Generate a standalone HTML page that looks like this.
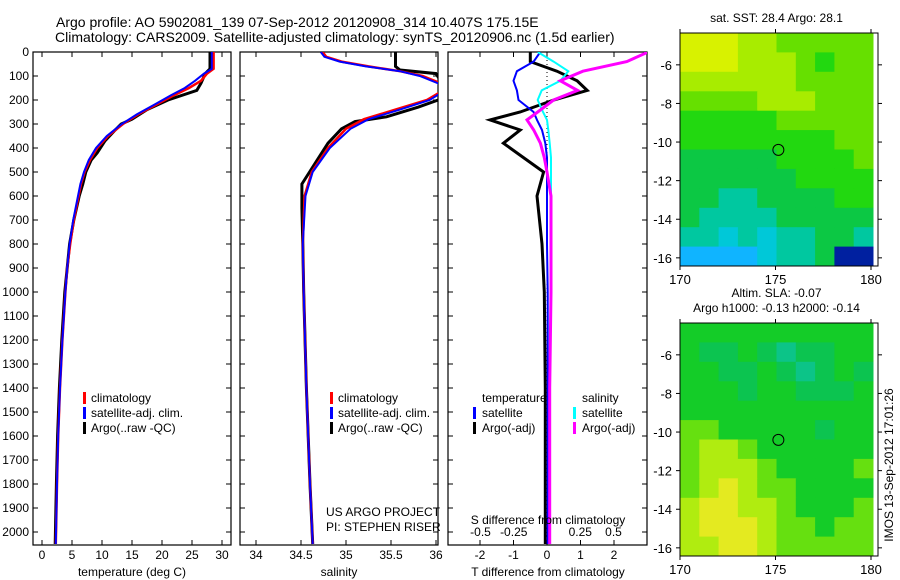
<!DOCTYPE html>
<html><head><meta charset="utf-8"><style>
body{margin:0;background:#fff;}
svg{display:block;font-family:"Liberation Sans",sans-serif;}
</style></head><body>
<svg id="c" width="900" height="580" viewBox="0 0 900 580"></svg>
<script>
// ---- data ----
const tDepth=[0,70,90,120,150,180,220,260,300,350,400,450,500,550,600,700,800,900,1000,1200,1400,1600,1800,2050];
const tClim=[28.6,28.6,27.5,26.5,24.5,22,19,16,13.5,11,9.2,8,7.1,6.5,6.1,5.3,4.7,4.2,3.9,3.4,3.0,2.7,2.5,2.3];
const tSat=[28.3,28.3,27,25.5,23.8,21.5,18.7,15.8,13.3,10.8,9.0,7.8,7.0,6.4,6.0,5.2,4.6,4.2,3.9,3.4,3.0,2.7,2.5,2.3];
const aDepth=[0,70,90,130,160,200,240,280,300,330,370,420,450,500,550,600,700,800,1000,1200,1400,1600,1800,2050];
const tArgo=[28.0,28.0,27.2,26.5,25.8,21,17.5,15,13.2,12,10.5,9.2,8.2,7.3,6.8,6.2,5.3,4.6,3.8,3.3,2.9,2.6,2.4,2.2];
const sDepth=[0,20,40,60,80,100,130,160,200,240,280,320,400,500,600,800,1000,1400,1800,2050];
const sClim=[34.74,34.78,34.95,35.25,35.6,35.85,36.05,36.08,35.9,35.55,35.2,35.0,34.8,34.62,34.54,34.52,34.53,34.56,34.6,34.63];
const sSat=[34.72,34.76,34.93,35.22,35.6,35.82,36.02,36.1,35.93,35.6,35.25,35.05,34.82,34.63,34.55,34.52,34.53,34.56,34.6,34.63];
const saDepth=[0,60,75,90,120,160,190,230,270,290,320,380,450,550,650,800,1000,1400,1800,2050];
const sArgo=[35.55,35.55,35.6,36.0,36.05,36.1,36.1,35.8,35.45,35.1,34.95,34.8,34.68,34.51,34.51,34.52,34.53,34.56,34.6,34.63];
const dDepth=[0,40,80,120,160,200,250,283,325,380,440,500,600,800,1000,1400,1800,2050];
const dTsat=[-0.2,-0.4,-0.9,-1.0,-0.9,-0.85,-0.4,-0.3,-0.15,-0.05,0.0,0.0,0.0,0.0,0.02,0.02,0.02,0.02];
const dTargo=[-0.5,-0.5,0.3,0.9,1.2,0.2,-0.8,-1.7,-0.8,-1.3,-0.7,-0.1,-0.3,-0.15,-0.08,-0.05,-0.05,-0.05];
const dSsat=[-0.07,0.05,0.16,0.1,-0.04,-0.07,-0.03,0.0,0.01,0.02,0.03,0.03,0.03,0.03,0.03,0.02,0.02,0.02];
const dSargo=[0.76,0.6,0.27,0.1,0.23,0.05,-0.07,-0.15,-0.1,-0.05,-0.02,0.0,0.03,0.03,0.03,0.02,0.02,0.02];
const depthTicks=[0,100,200,300,400,500,600,700,800,900,1000,1100,1200,1300,1400,1500,1600,1700,1800,1900,2000];
const tTicks=[0,5,10,15,20,25,30];
const sTicks=[34,34.5,35,35.5,36];
const dTTicks=[-2,-1,0,1,2];
const dSTicks=[-0.5,-0.25,0,0.25,0.5];
const map1=[[5,5,5,4,4,3,3,3,3,3],[5,5,5,4,4,4,3,2,3,3],[4,4,4,4,4,4,3,3,3,3],[3,3,3,3,4,4,4,3,3,3],[2,2,2,2,2,3,3,3,3,3],[2,2,2,2,2,2,2,2,3,3],[1,1,1,1,1,2,2,2,2,3],[1,1,1,1,1,1,2,2,2,2],[1,1,0,0,1,1,1,1,2,2],[1,0,0,0,0,1,1,1,1,1],[0,0,-1,0,-1,0,0,1,1,0],[-2,-2,-2,-2,-1,0,0,1,-3,-3]];
const map2=[[2,2,2,2,2,2,2,2,2,2],[2,1,1,2,1,0,1,1,2,2],[2,2,1,1,2,1,0,1,2,1],[2,2,2,1,2,2,1,1,1,2],[2,2,2,2,2,2,2,2,2,2],[3,3,2,2,2,2,2,1,2,2],[3,4,4,3,2,2,2,2,2,2],[3,4,4,4,3,2,2,2,2,3],[3,4,5,4,3,3,2,2,2,2],[4,5,5,4,4,3,2,2,2,3],[4,5,5,5,4,3,3,2,3,3],[4,4,5,5,4,3,3,3,3,3]];
const mapTicksX=[170,175,180];
const map1TicksY=[-6,-8,-10,-12,-14,-16];
const map2TicksY=[-6,-8,-10,-12,-14,-16];
// ---- helpers ----
const svg=document.getElementById('c');const NS='http://www.w3.org/2000/svg';
function mk(t,a,p){const e=document.createElementNS(NS,t);for(const k in a)e.setAttribute(k,a[k]);(p||svg).appendChild(e);return e;}
function txt(x,y,s,anchor,size){const e=mk('text',{x:x,y:y,'text-anchor':anchor||'middle','font-size':size||12,fill:'#000'});e.textContent=s;return e;}
const Y0=52,YB=545;
const yD=d=>Y0+d*0.24;
function xLin(v0,p0,v1,p1){return v=>p0+(v-v0)*(p1-p0)/(v1-v0);}
function line(xs,ds,fx,col,w,name){const p=xs.map((v,i)=>fx(v).toFixed(1)+','+yD(ds[i]).toFixed(1)).join(' ');
 const e=mk('polyline',{points:p,fill:'none',stroke:col,'stroke-width':w});
 
 return e;}
function frame(x0,x1,name){const e=mk('rect',{x:x0,y:Y0,width:x1-x0,height:YB-Y0,fill:'none',stroke:'#000','stroke-width':1.2});
 
 }
// titles
txt(56,27,'Argo profile: AO 5902081_139 07-Sep-2012 20120908_314 10.407S 175.15E','start',14);
txt(55,42,'Climatology: CARS2009. Satellite-adjusted climatology: synTS_20120906.nc (1.5d earlier)','start',14);
// panel 1
const fT=xLin(0,42,30,222);
frame(33,231,'temperature-panel');
depthTicks.forEach(d=>{const y=yD(d);mk('line',{x1:33,x2:38,y1:y,y2:y,stroke:'#000'});mk('line',{x1:226,x2:231,y1:y,y2:y,stroke:'#000'});
 const t=txt(29,y+4,String(d),'end',12);});
tTicks.forEach(v=>{const x=fT(v);mk('line',{x1:x,x2:x,y1:YB,y2:YB-5,stroke:'#000'});mk('line',{x1:x,x2:x,y1:Y0,y2:Y0+5,stroke:'#000'});txt(x,559,String(v));});
txt(132,576,'temperature (deg C)');
line(tArgo,aDepth,fT,'#000',3,'temp-argo-line');
line(tClim,tDepth,fT,'#f00',2.5,'temp-climatology-line');
line(tSat,tDepth,fT,'#00f',2,'temp-satellite-line');
function legend3(x,y,name){const g=mk('g',{});
 [['#f00','climatology'],['#00f','satellite-adj. clim.'],['#000','Argo(..raw -QC)']].forEach((r,i)=>{
 mk('rect',{x:x,y:y+i*15-10,width:3,height:12,fill:r[0]},g);const t=mk('text',{x:x+8,y:y+i*15,'font-size':12},g);t.textContent=r[1];});}
legend3(83,402,'temp-legend');
// panel 2
const fS=xLin(34,256,36,436);
frame(240,438,'salinity-panel');
depthTicks.forEach(d=>{const y=yD(d);mk('line',{x1:240,x2:245,y1:y,y2:y,stroke:'#000'});mk('line',{x1:433,x2:438,y1:y,y2:y,stroke:'#000'});});
sTicks.forEach(v=>{const x=fS(v);mk('line',{x1:x,x2:x,y1:YB,y2:YB-5,stroke:'#000'});mk('line',{x1:x,x2:x,y1:Y0,y2:Y0+5,stroke:'#000'});txt(x,559,String(v));});
txt(339,576,'salinity');
const cp=mk('clipPath',{id:'cp2'});mk('rect',{x:240,y:Y0,width:198,height:YB-Y0},cp);
const cp3=mk('clipPath',{id:'cp3'});mk('rect',{x:448,y:Y0,width:199,height:YB-Y0},cp3);
const g2=mk('g',{'clip-path':'url(#cp2)'});
[line(sArgo,saDepth,fS,'#000',3,'sal-argo-line'),line(sClim,sDepth,fS,'#f00',2.5,'sal-climatology-line'),line(sSat,sDepth,fS,'#00f',2,'sal-satellite-line')].forEach(e=>g2.appendChild(e));
legend3(330,402,'sal-legend');
txt(326,516,'US ARGO PROJECT','start',12);
txt(326,531,'PI: STEPHEN RISER','start',12);
// panel 3
const fDT=xLin(0,547,1,580.5), fDS=xLin(0,547,1,680);
frame(448,647,'difference-panel');
depthTicks.forEach(d=>{const y=yD(d);mk('line',{x1:448,x2:453,y1:y,y2:y,stroke:'#000'});mk('line',{x1:642,x2:647,y1:y,y2:y,stroke:'#000'});});
dTTicks.forEach(v=>{const x=fDT(v);mk('line',{x1:x,x2:x,y1:YB,y2:YB-5,stroke:'#000'});mk('line',{x1:x,x2:x,y1:Y0,y2:Y0+5,stroke:'#000'});txt(x,559,String(v));});
dSTicks.forEach(v=>{txt(fDS(v),536,String(v));});
mk('line',{x1:547,x2:547,y1:Y0,y2:YB,stroke:'#000','stroke-dasharray':'1,3'});
const g3=mk('g',{'clip-path':'url(#cp3)'});
[line(dTargo,dDepth,fDT,'#000',3,'dT-argo-line'),line(dTsat,dDepth,fDT,'#00f',2,'dT-satellite-line'),line(dSsat,dDepth,fDS,'#0ff',2,'dS-satellite-line'),line(dSargo,dDepth,fDS,'#f0f',3,'dS-argo-line')].forEach(e=>g3.appendChild(e));
txt(548,524,'S difference from climatology');
txt(548,576,'T difference from climatology');
const lg=mk('g',{});
[[482,402,null,'temperature'],[473,417,'#00f','satellite'],[473,432,'#000','Argo(-adj)'],[582,402,null,'salinity'],[573,417,'#0ff','satellite'],[573,432,'#f0f','Argo(-adj)']].forEach(r=>{
 if(r[2])mk('rect',{x:r[0],y:r[1]-10,width:3,height:12,fill:r[2]},lg);
 const t=mk('text',{x:r[2]?r[0]+9:r[0],y:r[1],'font-size':12},lg);t.textContent=r[3];});
// maps
const pal={'5':'#d8f200','4':'#a8ec00','3':'#66e000','2':'#22d810','1':'#0cc844','0':'#00c8a0','-1':'#00c8d8','-2':'#10b4ff','-3':'#0020a0'};
const pal2={'5':'#e4ea20','4':'#b0ec10','3':'#66e010','2':'#14cc28','1':'#0cc450','0':'#0cc488'};
function map(grid,x0,y0,w,h,p,ticksY,latTop,title,name){
 const g=mk('g',{});
 const cw=w/grid[0].length,ch=h/grid.length;
 grid.forEach((row,i)=>row.forEach((v,j)=>{mk('rect',{x:(x0+j*cw).toFixed(1),y:(y0+i*ch).toFixed(1),width:(cw+0.5).toFixed(1),height:(ch+0.5).toFixed(1),fill:p[v]},g);}));
 mk('rect',{x:x0,y:y0,width:w+5,height:h,fill:'none',stroke:'#000'},g);
 const fx=xLin(170,x0,180,x0+w-2), fy=v=>y0+(latTop-v)*19.3;
 mapTicksX.forEach(v=>{const x=fx(v);mk('line',{x1:x,x2:x,y1:y0+h,y2:y0+h+4,stroke:'#000'},g);mk('line',{x1:x,x2:x,y1:y0,y2:y0-4,stroke:'#000'},g);
  const t=mk('text',{x:x,y:y0+h+18,'text-anchor':'middle','font-size':13},g);t.textContent=String(v);});
 ticksY.forEach(v=>{const y=fy(v);mk('line',{x1:x0-4,x2:x0,y1:y,y2:y,stroke:'#000'},g);mk('line',{x1:x0+w+5,x2:x0+w+9,y1:y,y2:y,stroke:'#000'},g);
  const t=mk('text',{x:x0-8,y:y+5,'text-anchor':'end','font-size':13},g);t.textContent=String(v);});
 mk('circle',{cx:fx(175.15),cy:fy(-10.407),r:5.5,fill:'none',stroke:'#000'},g);
 title.forEach((s,i)=>{const t=mk('text',{x:x0+w/2,y:y0-11-(title.length-1-i)*15,'text-anchor':'middle','font-size':12},g);t.textContent=s;});
}
map(map1,680,33,193,233,pal,map1TicksY,-4.35,['sat. SST: 28.4 Argo: 28.1'],'sst-map');
map(map2,680,323,193,233,pal2,map2TicksY,-4.35,['Altim. SLA: -0.07','Argo h1000: -0.13 h2000: -0.14'],'sla-map');
const v=txt(0,0,'IMOS 13-Sep-2012 17:01:26','middle',12);v.setAttribute('transform','translate(893,465) rotate(-90)');
</script>
</body></html>
